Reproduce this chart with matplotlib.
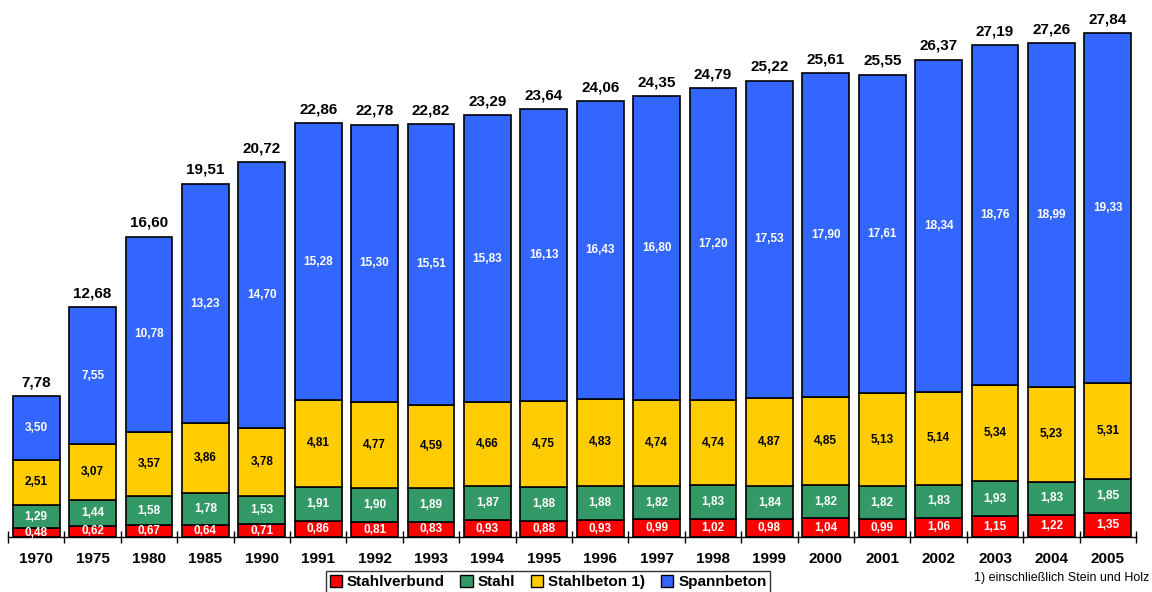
import matplotlib
matplotlib.use("Agg")
import matplotlib.pyplot as plt
from matplotlib.patches import Patch
import numpy as np

years = ["1970", "1975", "1980", "1985", "1990", "1991", "1992", "1993", "1994", "1995",
         "1996", "1997", "1998", "1999", "2000", "2001", "2002", "2003", "2004", "2005"]
stahlverbund = [0.48, 0.62, 0.67, 0.64, 0.71, 0.86, 0.81, 0.83, 0.93, 0.88,
                0.93, 0.99, 1.02, 0.98, 1.04, 0.99, 1.06, 1.15, 1.22, 1.35]
stahl = [1.29, 1.44, 1.58, 1.78, 1.53, 1.91, 1.90, 1.89, 1.87, 1.88,
         1.88, 1.82, 1.83, 1.84, 1.82, 1.82, 1.83, 1.93, 1.83, 1.85]
stahlbeton = [2.51, 3.07, 3.57, 3.86, 3.78, 4.81, 4.77, 4.59, 4.66, 4.75,
              4.83, 4.74, 4.74, 4.87, 4.85, 5.13, 5.14, 5.34, 5.23, 5.31]
spannbeton = [3.50, 7.55, 10.78, 13.23, 14.70, 15.28, 15.30, 15.51, 15.83, 16.13,
              16.43, 16.80, 17.20, 17.53, 17.90, 17.61, 18.34, 18.76, 18.99, 19.33]
totals = [7.78, 12.68, 16.60, 19.51, 20.72, 22.86, 22.78, 22.82, 23.29, 23.64,
          24.06, 24.35, 24.79, 25.22, 25.61, 25.55, 26.37, 27.19, 27.26, 27.84]

series = [
    ("Stahlverbund", stahlverbund, "#FF0000", "white"),
    ("Stahl", stahl, "#339966", "white"),
    ("Stahlbeton 1)", stahlbeton, "#FFCC00", "black"),
    ("Spannbeton", spannbeton, "#3366FF", "white"),
]

plt.rcParams['font.family'] = ['Liberation Sans', 'DejaVu Sans']

fig = plt.figure(figsize=(11.52, 5.92), dpi=100)
ax = fig.add_axes([8/1152, 55/592, 1128/1152, 537/592])

x = np.arange(len(years))
bottom = np.zeros(len(years))
for name, vals, color, tcolor in series:
    vals = np.array(vals)
    ax.bar(x, vals, bottom=bottom, width=0.83, color=color, edgecolor="black", linewidth=1.2)
    for xi, b, v in zip(x, bottom, vals):
        ax.text(xi, b + v / 2, f"{v:.2f}".replace(".", ","), ha="center", va="center",
                color=tcolor, fontsize=8.5, fontweight="bold")
    bottom += vals

for xi, top, t in zip(x, bottom, totals):
    ax.annotate(f"{t:.2f}".replace(".", ","), (xi, top), xytext=(0, 5), textcoords="offset points",
                ha="center", va="bottom", fontsize=11, fontweight="bold", color="black")

ax.set_xlim(-0.5, len(years) - 0.5)
ax.set_ylim(0, 537 / 18.1)
for s in ["top", "right", "left"]:
    ax.spines[s].set_visible(False)
ax.spines["bottom"].set_linewidth(1.0)
ax.set_yticks([])
ax.set_xticks(x)
ax.set_xticklabels(years, fontsize=11, fontweight="bold")
ax.tick_params(axis="x", which="major", length=0, pad=11)
ax.set_xticks(np.arange(len(years) + 1) - 0.5, minor=True)
ax.tick_params(axis="x", which="minor", length=9, direction="inout", width=1.0)

handles = [Patch(facecolor=c, edgecolor="black", label=n) for n, _, c, _ in series]
leg = fig.legend(handles=handles, loc="upper center", bbox_to_anchor=(548/1152, 1 - 571/592),
                 ncol=4, frameon=True, fancybox=False, edgecolor="black",
                 prop={"weight": "bold", "size": 11}, handlelength=0.8, handleheight=0.8,
                 handletextpad=0.35, columnspacing=1.0, borderpad=0.25, borderaxespad=0)
leg.get_frame().set_linewidth(1.0)

fig.text(1149/1152, 1 - 578/592, "1) einschließlich Stein und Holz", ha="right", va="center",
         fontsize=9)

fig.savefig("out.png", dpi=100)
